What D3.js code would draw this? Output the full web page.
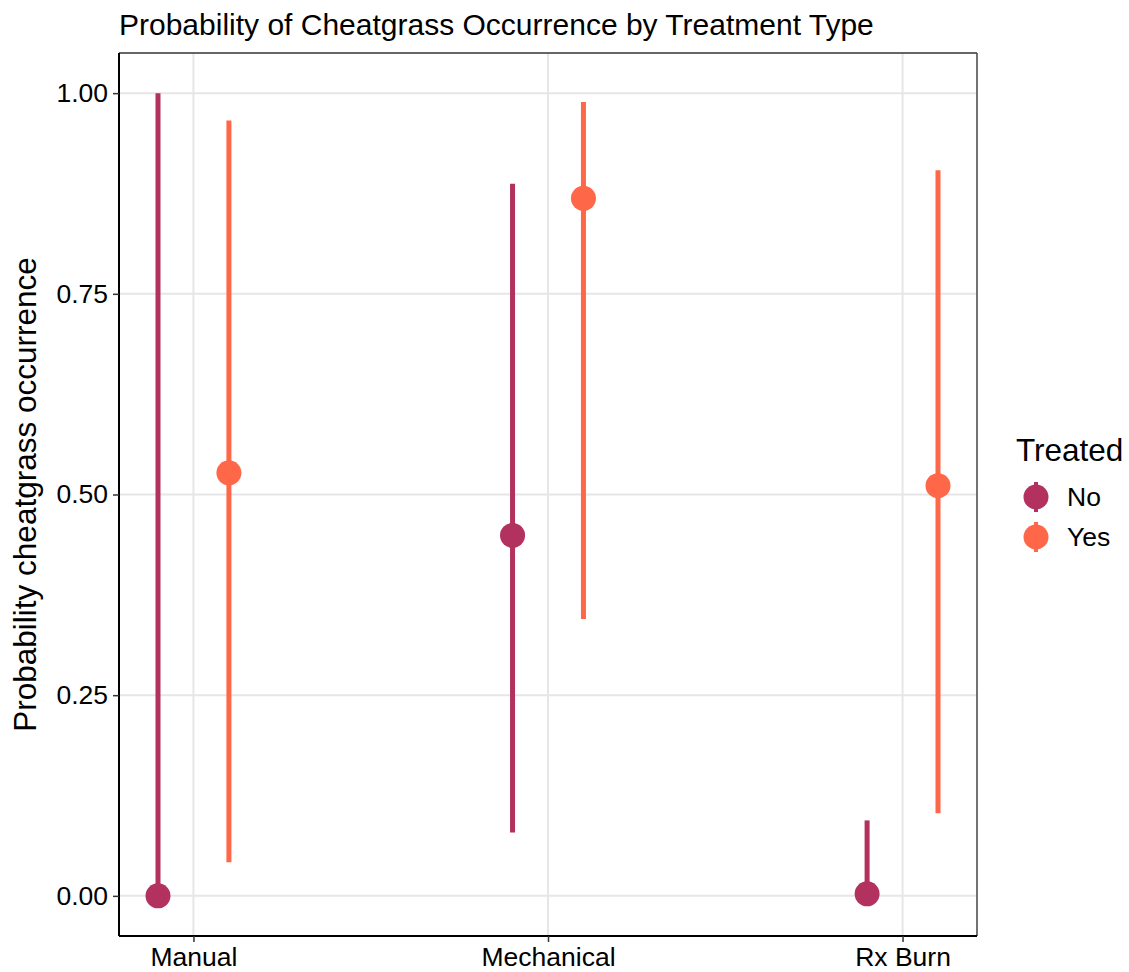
<!DOCTYPE html>
<html>
<head>
<meta charset="utf-8">
<script src="https://cdn.jsdelivr.net/npm/d3@7"></script>
<style>
  body { margin: 0; background: #fff; }
  svg { font-family: "Liberation Sans", Arial, Helvetica, sans-serif; }
</style>
</head>
<body>
<svg id="chart" width="1129" height="972"></svg>
<script>
// Treatment categories and groups
const categories = ["Manual", "Mechanical", "Rx Burn"];
const groups = ["No", "Yes"];
// Estimated probability with lower/upper interval, per group, in category order
const estNo  = [0.000, 0.449, 0.0025];
const lowNo  = [0.000, 0.079, 0.000];
const highNo = [1.000, 0.887, 0.094];
const estYes  = [0.527, 0.869, 0.511];
const lowYes  = [0.042, 0.345, 0.103];
const highYes = [0.966, 0.989, 0.904];
const yTicks = [0, 0.25, 0.5, 0.75, 1];
const yTickLabels = ["0.00", "0.25", "0.50", "0.75", "1.00"];

const colors = { No: "#B2315F", Yes: "#FF6749" };

const rows = [];
categories.forEach((c, i) => {
  rows.push({ cat: c, idx: i + 1, group: "No", est: estNo[i], lo: lowNo[i], hi: highNo[i] });
  rows.push({ cat: c, idx: i + 1, group: "Yes", est: estYes[i], lo: lowYes[i], hi: highYes[i] });
});

const svg = d3.select("#chart");
const L = 119, R = 977, T = 53, B = 936;

const x = d3.scaleLinear().domain([0.79, 3.21]).range([L, R]);
const y = d3.scaleLinear().domain([-0.05, 1.05]).range([B, T]);
const dodge = { No: -0.1, Yes: 0.1 };

// gridlines
const grid = svg.append("g");
grid.selectAll("line.h").data(yTicks).join("line")
  .attr("x1", L).attr("x2", R)
  .attr("y1", d => y(d)).attr("y2", d => y(d))
  .attr("stroke", "#e6e6e6").attr("stroke-width", 2);
grid.selectAll("line.v").data(categories).join("line")
  .attr("x1", (d, i) => x(i + 1)).attr("x2", (d, i) => x(i + 1))
  .attr("y1", T).attr("y2", B)
  .attr("stroke", "#e6e6e6").attr("stroke-width", 2);

// point ranges
const marks = svg.append("g");
marks.selectAll("line.range").data(rows).join("line")
  .attr("x1", d => x(d.idx + dodge[d.group])).attr("x2", d => x(d.idx + dodge[d.group]))
  .attr("y1", d => y(d.lo)).attr("y2", d => y(d.hi))
  .attr("stroke", d => colors[d.group]).attr("stroke-width", 5);
marks.selectAll("circle").data(rows).join("circle")
  .attr("cx", d => x(d.idx + dodge[d.group])).attr("cy", d => y(d.est))
  .attr("r", 12.5).attr("fill", d => colors[d.group]);

// panel border
svg.append("line").attr("x1", L).attr("x2", R).attr("y1", T).attr("y2", T).attr("stroke", "#333").attr("stroke-width", 1.5);
svg.append("line").attr("x1", R).attr("x2", R).attr("y1", T).attr("y2", B).attr("stroke", "#444").attr("stroke-width", 1.5);

// axes
const yAxis = d3.axisLeft(y).tickValues(yTicks)
  .tickFormat((d, i) => yTickLabels[i]).tickSize(6).tickPadding(5);
const gy = svg.append("g").attr("transform", `translate(${L},0)`).call(yAxis);
gy.select(".domain").attr("stroke", "#000").attr("stroke-width", 2)
  .attr("d", `M0,${T}V${B}`);
gy.selectAll(".tick line").attr("stroke", "#333").attr("stroke-width", 1.5);
gy.selectAll(".tick text").attr("font-size", 26.5).attr("fill", "#000");

const xAxis = d3.axisBottom(x).tickValues([1, 2, 3])
  .tickFormat((d, i) => categories[i]).tickSize(6).tickPadding(5);
const gx = svg.append("g").attr("transform", `translate(0,${B})`).call(xAxis);
gx.select(".domain").attr("stroke", "#000").attr("stroke-width", 2)
  .attr("d", `M${L},0H${R}`);
gx.selectAll(".tick line").attr("stroke", "#333").attr("stroke-width", 1.5);
gx.selectAll(".tick text").attr("font-size", 26.5).attr("fill", "#000");

// title
svg.append("text").attr("x", L).attr("y", 35)
  .attr("font-size", 30).attr("fill", "#000")
  .text("Probability of Cheatgrass Occurrence by Treatment Type");

// y axis title
svg.append("text")
  .attr("transform", `translate(36,${(T + B) / 2}) rotate(-90)`)
  .attr("text-anchor", "middle").attr("font-size", 31.5).attr("fill", "#000")
  .text("Probability cheatgrass occurrence");

// legend
const lg = svg.append("g");
lg.append("text").attr("x", 1016).attr("y", 461).attr("font-size", 31.5).attr("fill", "#000").text("Treated");
groups.forEach((g, i) => {
  const cy = 497 + i * 40;
  lg.append("line").attr("x1", 1036).attr("x2", 1036).attr("y1", cy - 15).attr("y2", cy + 15)
    .attr("stroke", colors[g]).attr("stroke-width", 4);
  lg.append("circle").attr("cx", 1036).attr("cy", cy).attr("r", 12.5).attr("fill", colors[g]);
  lg.append("text").attr("x", 1067).attr("y", cy + 9).attr("font-size", 26.5).attr("fill", "#000").text(g);
});
</script>
</body>
</html>
